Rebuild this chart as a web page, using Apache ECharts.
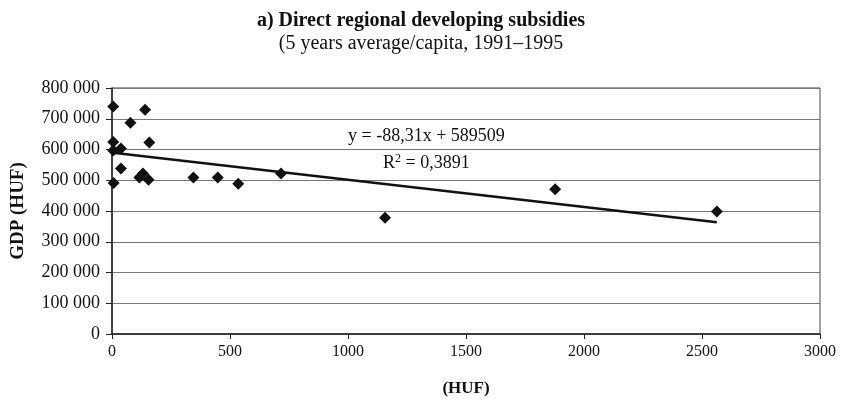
<!DOCTYPE html>
<html>
<head>
<meta charset="utf-8">
<script src="https://cdn.jsdelivr.net/npm/echarts@6/dist/echarts.min.js"></script>
<style>html,body{margin:0;padding:0;background:#fff}#c{width:842px;height:404px}</style>
</head>
<body>
<div id="c"></div>
<script>
// Subsidy per capita (HUF), 5-year average 1991-1995
const subsidies = [5, 5, 5, 38, 7, 38, 78, 140, 158, 116, 131, 155, 345, 448, 535, 716, 1157, 1878, 2563];
// GDP per capita (HUF)
const gdp = [740000, 624000, 597000, 603000, 491000, 538000, 687000, 729000, 623000, 509000, 522000, 502000, 509000, 509000, 489000, 522000, 378000, 471000, 398000];
// Linear trend from the chart's equation
const trendSlope = -88.31;
const trendIntercept = 589509;
const xTicks = [0, 500, 1000, 1500, 2000, 2500, 3000];
const yTicks = [0, 100000, 200000, 300000, 400000, 500000, 600000, 700000, 800000];

const points = subsidies.map((x, i) => [x, gdp[i]]);
const xMin = Math.min(...subsidies), xMax = Math.max(...subsidies);
const trend = [[xMin, trendSlope * xMin + trendIntercept], [xMax, trendSlope * xMax + trendIntercept]];

const serif = 'Liberation Serif';
const chart = echarts.init(document.getElementById('c'));
chart.setOption({
  backgroundColor: '#fff',
  animation: false,
  title: [{
    text: 'a) Direct regional developing subsidies',
    left: 'center', top: 6,
    textStyle: {fontFamily: serif, fontSize: 20, fontWeight: 'bold', color: '#111'}
  }, {
    text: '(5 years average/capita, 1991\u20131995',
    left: 'center', top: 29,
    textStyle: {fontFamily: serif, fontSize: 20, fontWeight: 'normal', color: '#111'}
  }],
  grid: {left: 112, right: 22, top: 88, bottom: 70, show: true, borderColor: '#444', borderWidth: 1},
  xAxis: {
    type: 'value', min: xTicks[0], max: xTicks[xTicks.length - 1], interval: 500,
    name: '(HUF)', nameLocation: 'middle', nameGap: 46,
    nameTextStyle: {fontFamily: serif, fontSize: 17, fontWeight: 'bold', color: '#111'},
    axisLine: {show: true, onZero: false, lineStyle: {color: '#222', width: 1.5}},
    axisTick: {show: true, length: 5, inside: false, lineStyle: {color: '#222'}},
    axisLabel: {fontFamily: serif, fontSize: 16, color: '#111', margin: 10, formatter: v => String(v)},
    splitLine: {show: false}
  },
  yAxis: {
    type: 'value', min: yTicks[0], max: yTicks[yTicks.length - 1], interval: 100000,
    name: 'GDP (HUF)', nameLocation: 'middle', nameGap: 84, nameRotate: 90,
    nameTextStyle: {fontFamily: serif, fontSize: 19, fontWeight: 'bold', color: '#111'},
    axisLine: {show: true, lineStyle: {color: '#222', width: 1.5}},
    axisTick: {show: true, length: 6, lineStyle: {color: '#222'}},
    axisLabel: {fontFamily: serif, fontSize: 18, color: '#111', margin: 12,
      formatter: v => String(v).replace(/\B(?=(\d{3})+(?!\d))/g, ' ')},
    splitLine: {show: true, lineStyle: {color: '#777', width: 1}}
  },
  series: [{
    type: 'scatter', data: points, symbol: 'diamond', symbolSize: 12,
    itemStyle: {color: '#111', opacity: 1}, z: 3
  }, {
    type: 'line', data: trend, symbol: 'none',
    lineStyle: {color: '#111', width: 2.5}, z: 2
  }],
  graphic: [{
    type: 'text', left: 348, top: 127,
    style: {text: 'y = -88,31x + 589509', fontFamily: serif, fontSize: 18, fill: '#111'}
  }, {
    type: 'text', left: 383, top: 153,
    style: {
      text: '{b|R}{s|2}{b| = 0,3891}',
      rich: {
        b: {fontFamily: serif, fontSize: 18, fill: '#111', color: '#111'},
        s: {fontFamily: serif, fontSize: 12, fill: '#111', color: '#111', verticalAlign: 'top', padding: [0, 0, 8, 0]}
      }
    }
  }]
});
</script>
</body>
</html>
